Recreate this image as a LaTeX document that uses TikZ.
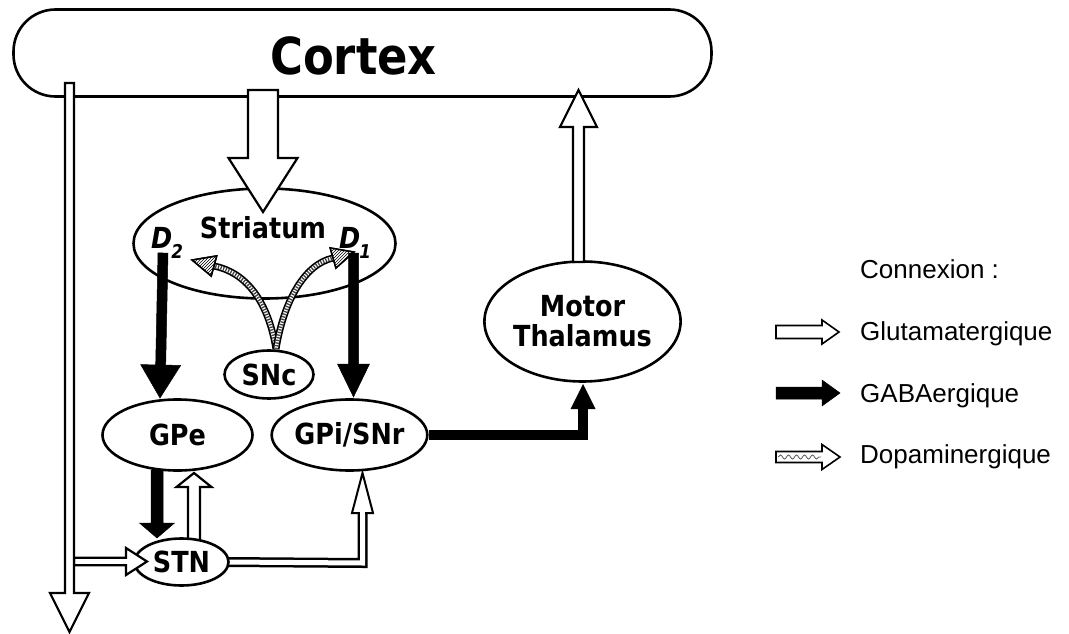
\documentclass[tikz,border=0pt]{standalone}
\usepackage{fontspec}
\setmainfont{Liberation Sans}
\newfontfamily\tah[FakeStretch=0.88]{DejaVu Sans}
\usetikzlibrary{shapes.geometric,calc,patterns,decorations.pathmorphing}
% style, from, tip, half shaft, half head, head length
\newcommand\fatarr[6]{%
  \coordinate (fa-a) at (#2);
  \coordinate (fa-b) at (#3);
  \coordinate (fa-h) at ($(fa-b)!#6!(fa-a)$);
  \draw[#1] ($(fa-a)!#4!90:(fa-b)$) -- ($(fa-h)!#4!90:(fa-b)$) -- ($(fa-h)!#5!90:(fa-b)$) -- (fa-b) -- ($(fa-h)!#5!-90:(fa-b)$) -- ($(fa-h)!#4!-90:(fa-b)$) -- ($(fa-a)!#4!-90:(fa-b)$) -- cycle;
}
% dopaminergic head: base, tip
\newcommand\dopahead[2]{%
  \draw[line width=1.4pt, fill=white] ($(#1)!10.5pt!90:(#2)$) -- (#2) -- ($(#1)!10.5pt!-90:(#2)$) -- cycle;
  \draw[line width=1.4pt, pattern=north east lines] ($(#1)!10.5pt!90:(#2)$) -- (#2) -- ($(#1)!10.5pt!-90:(#2)$) -- cycle;
}
% dopaminergic rope: from, c1, c2, to
\newcommand\doparope[4]{%
  \draw[line width=7pt, black] (#1) .. controls (#2) and (#3) .. (#4);
  \draw[line width=3.6pt, white] (#1) .. controls (#2) and (#3) .. (#4);
  \draw[line width=3.6pt, black!75, dash pattern=on 1.3pt off 1.4pt] (#1) .. controls (#2) and (#3) .. (#4);
}
\tikzset{
  glu/.style={draw=black, fill=white, line width=2.2pt, line join=miter},
  gaba/.style={draw=black, fill=black, line width=0.5pt, line join=miter},
  region/.style={ellipse, draw, line width=2.6pt, fill=white, inner sep=0pt, align=center,
     font=\tah\bfseries\fontsize{29}{30}\selectfont},
  bold/.style={inner sep=0pt, font=\tah\bfseries\fontsize{29}{30}\selectfont},
  dee/.style={inner sep=0pt, anchor=base west, font=\tah\bfseries\itshape\fontsize{29}{30}\selectfont},
  legtext/.style={inner sep=0pt, anchor=base west, font=\fontsize{26}{30}\selectfont},
}
\newcommand\subx[1]{\raisebox{-10pt}{\fontsize{19}{20}\selectfont #1}}
\begin{document}
\begin{tikzpicture}[x=1pt, y=-1pt]
\useasboundingbox (0,0) rectangle (1069,634);

% Cortex
\node[draw, line width=2.6pt, rounded corners=42pt, minimum width=698pt, minimum height=87pt, inner sep=0pt] (cortex) at (362.5,53) {};
\node[inner sep=0pt, anchor=base, font=\tah\bfseries\fontsize{51}{55}\selectfont] (cortexlbl) at (353.5,75) {Cortex};

% Striatum
\node[region, minimum width=262pt, minimum height=110pt] (str) at (264.5,243.5) {};

% dopaminergic curves from SNc
\coordinate (sncTop) at (276,349);
\coordinate (h2) at (214,266); \coordinate (t2) at (192,260);
\coordinate (h1) at (333,258); \coordinate (t1) at (354,252);
\coordinate (c2a) at (268,300); \coordinate (c2b) at (245,272);
\coordinate (c1a) at (284,300); \coordinate (c1b) at (305,264);
\doparope{sncTop}{c2a}{c2b}{h2}
\doparope{sncTop}{c1a}{c1b}{h1}
\dopahead{h2}{t2}
\dopahead{h1}{t1}

% other regions
\node[region, minimum width=89pt, minimum height=48pt] (snc) at (269,374.5) {SNc};
\node[region, minimum width=150pt, minimum height=71pt] (gpe) at (177.5,435) {GPe};
\node[region, minimum width=150pt, minimum height=71pt] (gpi) at (349.5,435) {GPi/SNr};
\node[region, minimum width=196pt, minimum height=120pt] (thal) at (582.5,321.5) {Motor\\Thalamus};

% STN -> GPi (glutamatergic, bent), STN -> GPe
\coordinate (stnE) at (226,562);
\coordinate (bend) at (362.5,563);
\coordinate (gpiBase) at (362.5,513);
\coordinate (gpiTip) at (362.5,473);
\draw[line width=10pt, line join=miter] (stnE) -- (bend) -- (gpiBase);
\draw[line width=5pt, white, line join=miter] (stnE) -- (bend) -- ($(gpiBase)+(0,1)$);
\draw[glu, line width=2pt] ($(gpiBase)+(-10.5,0)$) -- (gpiTip) -- ($(gpiBase)+(10.5,0)$) -- cycle;
\fill[white] ($(gpiBase)+(-2.5,-1)$) rectangle ($(gpiBase)+(2.5,3)$);
\coordinate (stnTopR) at (194,548);
\coordinate (gpeBotR) at (194,473);
\fatarr{glu}{stnTopR}{gpeBotR}{6pt}{17.5pt}{14pt}

% STN
\node[region, minimum width=94pt, minimum height=47pt] (stn) at (181.5,562) {STN};

% GPe -> STN (GABA)
\coordinate (gpeBotL) at (157,470);
\coordinate (stnTopL) at (157,538);
\fatarr{gaba}{gpeBotL}{stnTopL}{6pt}{17.5pt}{15pt}

% Cortex long descending glutamatergic arrow + branch to STN
\coordinate (ctxL) at (69.5,83);
\coordinate (ctxLtip) at (69.5,632);
\coordinate (brA) at (74,561.5);
\coordinate (brTip) at (147,561.5);
\fatarr{glu}{brA}{brTip}{3.8pt}{13.5pt}{21pt}
\fatarr{glu}{ctxL}{ctxLtip}{4.5pt}{19.5pt}{39pt}

% Cortex -> Striatum
\coordinate (ctxC) at (263,90);
\coordinate (strTip) at (263,212);
\fatarr{glu}{ctxC}{strTip}{15pt}{34.5pt}{54pt}

% Striatum labels
\node[bold, anchor=base] (strlbl) at (263,238) {Striatum};
\node[dee] (dtwo) at (151,248) {D\kern-1pt\subx{2}};
\node[dee] (done) at (339,248) {D\kern-1pt\subx{1}};

% Striatum -> GPe / GPi (GABA)
\coordinate (d2a) at (163,253);
\coordinate (d2t) at (160,398);
\coordinate (d1a) at (353.5,253);
\coordinate (d1t) at (353.5,397);
\fatarr{gaba}{d2a}{d2t}{5pt}{20pt}{33pt}
\fatarr{gaba}{d1a}{d1t}{5pt}{16pt}{33pt}

% Thalamus -> Cortex
\coordinate (thTop) at (578.5,262);
\coordinate (ctxTip) at (578.5,90);
\fatarr{glu}{thTop}{ctxTip}{5.5pt}{18.5pt}{37pt}

% GPi -> Thalamus (GABA)
\coordinate (thBase) at (583,408);
\coordinate (thTip) at (583,384);
\draw[line width=10pt, line join=miter] (gpi.east) -| (thBase);
\fill ($(thBase)+(-12.5,1)$) -- (thTip) -- ($(thBase)+(12.5,1)$) -- cycle;

% Legend
\node[legtext] (conn) at (860,278) {Connexion :};
\node[legtext] (lglu) at (860,340) {Glutamatergique};
\node[legtext] (lgaba) at (860,402) {GABAergique};
\node[legtext] (ldopa) at (860,463) {Dopaminergique};
\coordinate (lg1a) at (776,332); \coordinate (lg1b) at (839,332);
\coordinate (lg2a) at (776,393); \coordinate (lg2b) at (840,393);
\coordinate (lg3a) at (776,457); \coordinate (lg3b) at (840,457);
\fatarr{glu, line width=1.6pt}{lg1a}{lg1b}{6.5pt}{12pt}{17pt}
\fatarr{gaba}{lg2a}{lg2b}{6pt}{13pt}{18pt}
\fatarr{glu, line width=1.6pt}{lg3a}{lg3b}{5.5pt}{12.5pt}{18pt}
\coordinate (lw1) at (778,457); \coordinate (lw2) at (821,457);
\draw[black!60, line width=0.9pt, decorate, decoration={snake, amplitude=2pt, segment length=8pt}] (lw1) -- (lw2);
\end{tikzpicture}
\end{document}
